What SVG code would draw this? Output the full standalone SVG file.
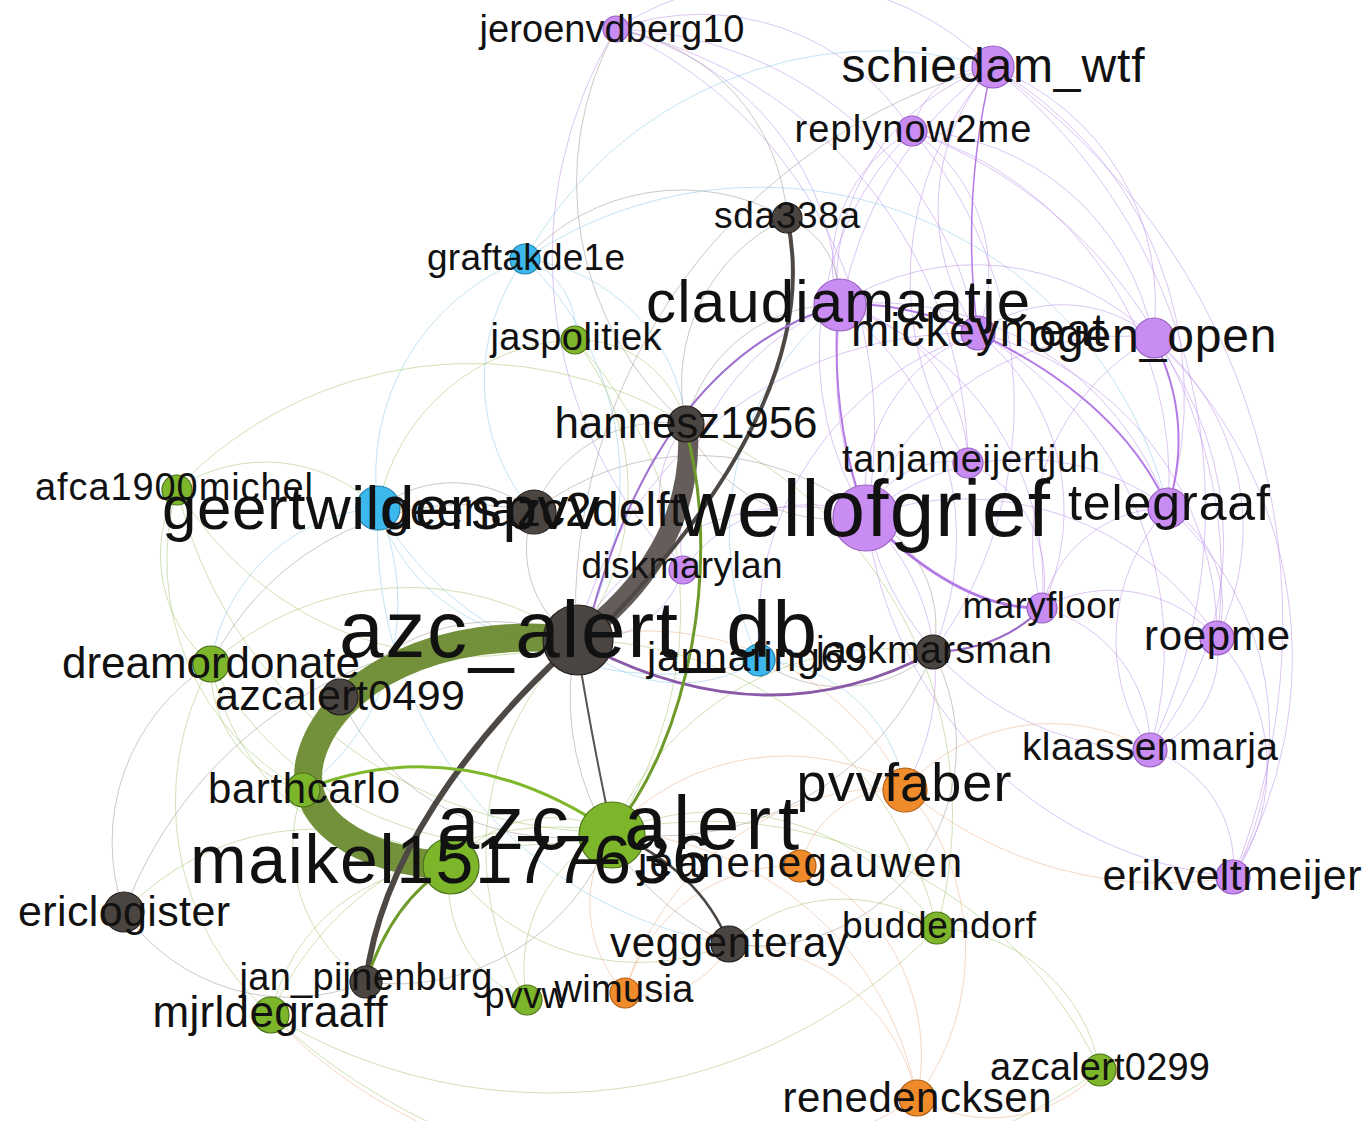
<svg xmlns="http://www.w3.org/2000/svg" width="1367" height="1121" viewBox="0 0 1367 1121">
<style>
.e{fill:none;stroke-width:1;stroke-opacity:.5}
.ep{stroke:#b889ea}.eg{stroke:#a2c46a}.eb{stroke:#86c8ea}.eo{stroke:#e9b088}.ed{stroke:#9a9490}
.w{fill:none;stroke-linecap:round}
.ng{fill:#7db52b;stroke:#4c7418}.nd{fill:#4b4541;stroke:#231f1d}.np{fill:#c98cf2;stroke:#9860c0}.nb{fill:#3cb8ec;stroke:#1f7fae}.no{fill:#ef8b2b;stroke:#b05f16}
circle{stroke-width:1.2}
text{font-family:"Liberation Sans",Arial,sans-serif;fill:#111;text-anchor:middle}
</style>
<rect width="1367" height="1121" fill="#fff"/>
<g id="connectors">
<!-- purple -->
<path class="e ep" d="M616,29 A300,300 0 0 1 992,67"/>
<path class="e ep" d="M616,29 A250,250 0 0 1 912,131"/>
<path class="e ep" d="M616,29 A285,285 0 0 1 838,305"/>
<path class="e ep" d="M616,29 A380,380 0 0 1 978,333"/>
<path class="e ep" d="M616,29 A440,440 0 0 1 866,516"/>
<path class="e ep" d="M616,29 A450,450 0 0 1 968,463"/>
<path class="e ed" d="M616,29 A320,320 0 0 0 686,424"/>
<path class="e ep" d="M616,29 A440,440 0 0 0 683,570"/>
<path class="e ep" d="M992,67 A82,82 0 0 0 912,131"/>
<path class="e ep" d="M992,67 A226,226 0 0 0 838,305"/>
<path class="e ep" d="M992,67 A213,213 0 0 0 978,333"/>
<path class="e ep" d="M992,67 A252,252 0 0 1 1153,338"/>
<path class="e ep" d="M992,67 A380,380 0 0 1 1168,508"/>
<path class="e ep" d="M992,67 A373,373 0 0 0 866,516"/>
<path class="e ep" d="M992,67 A318,318 0 0 0 968,463"/>
<path class="e ep" d="M992,67 A676,676 0 0 1 1233,877"/>
<path class="e ep" d="M992,67 A560,560 0 0 1 1150,750"/>
<path class="e eb" d="M525,259 A404,404 0 0 1 992,67"/>
<path class="e ed" d="M992,67 A566,566 0 0 0 576,640"/>
<path class="e ep" d="M912,131 A151,151 0 0 0 838,305"/>
<path class="e ep" d="M912,131 A170,170 0 0 1 978,333"/>
<path class="e ep" d="M912,131 A254,254 0 0 1 1153,338"/>
<path class="e ep" d="M912,131 A310,310 0 0 0 866,516"/>
<path class="e ep" d="M912,131 A365,365 0 0 1 1168,508"/>
<path class="e ep" d="M912,131 A473,473 0 0 1 1217,638"/>
<path class="e ep" d="M912,131 A417,417 0 0 1 933,652"/>
<path class="e ep" d="M838,305 A253,253 0 0 1 1153,338"/>
<path class="e ep" d="M838,305 A310,310 0 0 1 1168,508"/>
<path class="e ep" d="M838,305 A164,164 0 0 1 968,463"/>
<path class="e ep" d="M838,305 A245,245 0 0 0 683,570"/>
<path class="e ep" d="M838,305 A292,292 0 0 1 1042,608"/>
<path class="e ep" d="M838,305 A288,288 0 0 1 933,652"/>
<path class="e ep" d="M978,333 A140,140 0 0 1 1153,338"/>
<path class="e ep" d="M978,333 A172,172 0 0 0 866,516"/>
<path class="e ep" d="M978,333 A226,226 0 0 1 1042,608"/>
<path class="e ep" d="M978,333 A310,310 0 0 1 1217,638"/>
<path class="e ep" d="M978,333 A405,405 0 0 0 576,640"/>
<path class="e ep" d="M978,333 A361,361 0 0 1 1150,750"/>
<path class="e ep" d="M978,333 A315,315 0 0 0 759,660"/>
<path class="e ep" d="M1153,338 A245,245 0 0 1 1217,638"/>
<path class="e ep" d="M1153,338 A270,270 0 0 0 866,516"/>
<path class="e ep" d="M1153,338 A330,330 0 0 1 1150,750"/>
<path class="e ep" d="M1153,338 A436,436 0 0 1 1233,877"/>
<path class="e ep" d="M1153,338 A233,233 0 0 0 1042,608"/>
<path class="e ep" d="M866,516 A242,242 0 0 1 1168,508"/>
<path class="e ep" d="M866,516 A297,297 0 0 1 1217,638"/>
<path class="e ep" d="M866,516 A294,294 0 0 0 1150,750"/>
<path class="e ep" d="M866,516 A412,412 0 0 0 1233,877"/>
<path class="e ep" d="M866,516 A92,92 0 0 1 968,463"/>
<path class="e ep" d="M866,516 A153,153 0 0 0 683,570"/>
<path class="e ep" d="M866,516 A252,252 0 0 0 576,640"/>
<path class="e ep" d="M866,516 A220,220 0 0 1 905,788"/>
<path class="e ep" d="M1168,508 A111,111 0 0 1 1217,638"/>
<path class="e ep" d="M1168,508 A194,194 0 0 0 1150,750"/>
<path class="e ep" d="M1168,508 A300,300 0 0 1 1233,877"/>
<path class="e ep" d="M1168,508 A129,129 0 0 0 1042,608"/>
<path class="e ep" d="M1217,638 A104,104 0 0 1 1150,750"/>
<path class="e ep" d="M1217,638 A192,192 0 0 1 1233,877"/>
<path class="e ep" d="M1150,750 A121,121 0 0 1 1233,877"/>
<path class="e ep" d="M1042,608 A142,142 0 0 1 1217,638"/>
<path class="e ep" d="M1042,608 A143,143 0 0 1 1150,750"/>
<path class="e ep" d="M968,463 A130,130 0 0 1 1042,608"/>
<path class="e ep" d="M683,570 A102,102 0 0 1 576,640"/>
<path class="e ep" d="M683,570 A117,117 0 0 1 686,424"/>
<!-- blue -->
<path class="e eb" d="M525,259 A231,231 0 0 0 378,508"/>
<path class="e eb" d="M525,259 A76,76 0 0 1 575,340"/>
<path class="e eb" d="M525,259 A307,307 0 0 1 576,640"/>
<path class="e eb" d="M525,259 A184,184 0 0 1 686,424"/>
<path class="e eb" d="M525,259 A202,202 0 0 0 533,512"/>
<path class="e eb" d="M525,259 A420,420 0 0 1 1168,508"/>
<path class="e eb" d="M378,508 A190,190 0 0 0 576,640"/>
<path class="e eb" d="M378,508 A328,328 0 0 0 759,660"/>
<path class="e eb" d="M378,508 A183,183 0 0 0 211,664"/>
<path class="e eb" d="M378,508 A233,233 0 0 1 303,790"/>
<path class="e eb" d="M759,660 A147,147 0 0 1 576,640"/>
<path class="e eb" d="M759,660 A291,291 0 0 1 838,305"/>
<path class="e eb" d="M759,660 A155,155 0 0 1 905,788"/>
<path class="e eb" d="M378,508 A420,420 0 0 0 729,944"/>
<!-- green -->
<path class="e eg" d="M575,340 A240,240 0 0 1 576,640"/>
<path class="e eg" d="M575,340 A111,111 0 0 1 686,424"/>
<path class="e eg" d="M575,340 A395,395 0 0 1 612,832"/>
<path class="e eg" d="M575,340 A207,207 0 0 0 378,508"/>
<path class="e eg" d="M177,488 A162,162 0 0 1 378,508"/>
<path class="e eg" d="M177,488 A143,143 0 0 0 211,664"/>
<path class="e eg" d="M177,488 A341,341 0 0 0 576,640"/>
<path class="e eg" d="M177,488 A444,444 0 0 0 612,832"/>
<path class="e eg" d="M177,488 A262,262 0 0 0 303,790"/>
<path class="e eg" d="M177,488 A410,410 0 0 1 686,424"/>
<path class="e eg" d="M211,664 A293,293 0 0 1 576,640"/>
<path class="e eg" d="M211,664 A348,348 0 0 0 612,832"/>
<path class="e eg" d="M211,664 A125,125 0 0 0 303,790"/>
<path class="e eg" d="M211,664 A250,250 0 0 0 450,866"/>
<path class="e eg" d="M211,664 A285,285 0 0 0 271,1015"/>
<path class="e eg" d="M303,790 A132,132 0 0 0 450,866"/>
<path class="e eg" d="M303,790 A249,249 0 0 1 576,640"/>
<path class="e eg" d="M303,790 A162,162 0 0 0 366,982"/>
<path class="e eg" d="M450,866 A132,132 0 0 1 612,832"/>
<path class="e eg" d="M450,866 A186,186 0 0 0 271,1015"/>
<path class="e eg" d="M450,866 A124,124 0 0 0 527,1000"/>
<path class="e eg" d="M450,866 A232,232 0 0 0 729,944"/>
<path class="e eg" d="M612,832 A151,151 0 0 0 527,1000"/>
<path class="e eg" d="M612,832 A271,271 0 0 1 937,928"/>
<path class="e eg" d="M612,832 A434,434 0 0 1 1100,1070"/>
<path class="e eg" d="M937,928 A173,173 0 0 1 1100,1070"/>
<path class="e eg" d="M937,928 A370,370 0 0 0 576,640"/>
<path class="e eg" d="M937,928 A167,167 0 0 0 729,944"/>
<path class="e eg" d="M527,1000 A291,291 0 0 1 576,640"/>
<path class="e eg" d="M271,1015 A310,310 0 0 1 612,832"/>
<path class="e eg" d="M271,1015 A537,537 0 0 0 937,928"/>
<path class="e eg" d="M271,1015 A665,665 0 0 0 1100,1070"/>
<path class="e eg" d="M124,912 A263,263 0 0 1 450,866"/>
<path class="e eg" d="M612,832 A300,300 0 0 1 933,652"/>
<path class="e eg" d="M686,424 A420,420 0 0 1 937,928"/>
<!-- orange -->
<path class="e eo" d="M905,788 A237,237 0 0 0 612,832"/>
<path class="e eo" d="M905,788 A289,289 0 0 0 576,640"/>
<path class="e eo" d="M905,788 A105,105 0 0 0 800,866"/>
<path class="e eo" d="M905,788 A248,248 0 0 1 917,1098"/>
<path class="e eo" d="M905,788 A278,278 0 0 0 625,993"/>
<path class="e eo" d="M905,788 A198,198 0 0 1 1150,750"/>
<path class="e eo" d="M800,866 A208,208 0 0 1 917,1098"/>
<path class="e eo" d="M800,866 A173,173 0 0 0 625,993"/>
<path class="e eo" d="M625,993 A129,129 0 0 1 612,832"/>
<path class="e eo" d="M625,993 A92,92 0 0 0 729,944"/>
<path class="e eo" d="M917,1098 A324,324 0 0 0 612,832"/>
<path class="e eo" d="M917,1098 A194,194 0 0 0 729,944"/>
<path class="e eo" d="M917,1098 A148,148 0 0 0 1100,1070"/>
<path class="e eo" d="M917,1098 A521,521 0 0 1 271,1015"/>
<path class="e eo" d="M905,788 A400,400 0 0 0 1233,877"/>
<!-- dark -->
<path class="e ed" d="M686,424 A141,141 0 0 0 533,512"/>
<path class="e ed" d="M686,424 A183,183 0 0 1 787,218"/>
<path class="e ed" d="M686,424 A154,154 0 0 1 838,305"/>
<path class="e ed" d="M686,424 A162,162 0 0 0 866,516"/>
<path class="e ed" d="M787,218 A81,81 0 0 1 838,305"/>
<path class="e ed" d="M787,218 A212,212 0 0 0 525,259"/>
<path class="e ed" d="M787,218 A204,204 0 0 0 616,29"/>
<path class="e ed" d="M533,512 A108,108 0 0 0 576,640"/>
<path class="e ed" d="M533,512 A124,124 0 0 0 378,508"/>
<path class="e ed" d="M533,512 A266,266 0 0 1 866,516"/>
<path class="e ed" d="M533,512 A285,285 0 0 0 211,664"/>
<path class="e ed" d="M340,697 A194,194 0 0 1 576,640"/>
<path class="e ed" d="M340,697 A243,243 0 0 0 612,832"/>
<path class="e ed" d="M340,697 A80,80 0 0 0 303,790"/>
<path class="e ed" d="M124,912 A202,202 0 0 0 366,982"/>
<path class="e ed" d="M124,912 A422,422 0 0 1 576,640"/>
<path class="e ed" d="M124,912 A210,210 0 0 1 211,664"/>
<path class="e ed" d="M366,982 A230,230 0 0 0 612,832"/>
<path class="e ed" d="M729,944 A272,272 0 0 1 576,640"/>
<path class="e ed" d="M933,652 A121,121 0 0 0 866,516"/>
<path class="e ed" d="M933,652 A294,294 0 0 1 612,832"/>
<path class="e ed" d="M933,652 A139,139 0 0 1 759,660"/>
<path class="e ed" d="M933,652 A200,200 0 0 1 729,944"/>
<!-- heavy -->
<path class="w" d="M575,640 C440,625 330,680 310,760 C296,820 360,860 450,866" stroke="#6c8a2f" stroke-width="28" stroke-opacity=".95"/>
<path class="w" d="M688,432 C692,520 645,590 576,640" stroke="#5d5450" stroke-width="20" stroke-opacity=".95"/>
<path class="w" d="M787,218 C812,330 760,470 590,640" stroke="#4e4845" stroke-width="4"/>
<path class="w" d="M565,652 C470,740 380,860 366,982" stroke="#4e4845" stroke-width="6"/>
<path class="w" d="M590,648 Q770,740 933,652" stroke="#8a5aa8" stroke-width="3"/>
<path class="w" d="M686,430 C722,560 690,740 612,832" stroke="#6e9a2a" stroke-width="3"/>
<path class="w" d="M303,790 Q460,728 612,832" stroke="#7fb82b" stroke-width="3"/>
<path class="w" d="M450,866 Q392,900 366,982" stroke="#6e9a2a" stroke-width="3"/>
<path class="w" d="M576,640 Q592,740 612,832" stroke="#5a5450" stroke-width="2"/>
<path class="w" d="M612,832 Q700,870 729,944" stroke="#4e4845" stroke-width="2.5"/>
<path class="w" d="M838,305 Q660,360 590,620" stroke="#a070d0" stroke-width="2"/>
<path class="w" d="M978,333 Q1120,400 1168,508" stroke="#b47ae6" stroke-width="2"/>
<path class="w" d="M866,516 Q960,610 1042,608" stroke="#b47ae6" stroke-width="3"/>
<path class="w" d="M1153,338 Q1195,420 1168,508" stroke="#b47ae6" stroke-width="2"/>
<path class="w" d="M1042,608 Q1000,650 933,652" stroke="#9a68c8" stroke-width="2"/>
<path class="w" d="M838,305 Q900,300 978,333" stroke="#b47ae6" stroke-width="2"/>
<path class="w" d="M838,305 Q830,420 866,516" stroke="#b47ae6" stroke-width="2"/>
<path class="w" d="M992,67 Q960,200 978,333" stroke="#b47ae6" stroke-width="1.5"/>
</g>
<g id="nodes">
<g id="node-jeroenvdberg10"><circle class="np" cx="616" cy="29" r="13"/></g>
<g id="node-schiedam_wtf"><circle class="np" cx="993" cy="67" r="21"/></g>
<g id="node-replynow2me"><circle class="np" cx="912" cy="131" r="15"/></g>
<g id="node-sda338a"><circle class="nd" cx="787" cy="218" r="15"/></g>
<g id="node-graftakde1e"><circle class="nb" cx="525" cy="259" r="15"/></g>
<g id="node-claudiamaatje"><circle class="np" cx="840" cy="305" r="26"/></g>
<g id="node-mickeymeat"><circle class="np" cx="978" cy="333" r="17"/></g>
<g id="node-ogen_open"><circle class="np" cx="1154" cy="338" r="20"/></g>
<g id="node-jaspolitiek"><circle class="ng" cx="575" cy="340" r="14"/></g>
<g id="node-hannesz1956"><circle class="nd" cx="686" cy="424" r="18"/></g>
<g id="node-tanjameijertjuh"><circle class="np" cx="968" cy="463" r="15"/></g>
<g id="node-afca1900michel"><circle class="ng" cx="177" cy="490" r="15"/></g>
<g id="node-geertwilderspvv"><circle class="nb" cx="378" cy="508" r="22"/></g>
<g id="node-geenazc2delft"><circle class="nd" cx="534" cy="512" r="22"/></g>
<g id="node-wellofgrief"><circle class="np" cx="866" cy="518" r="33"/></g>
<g id="node-telegraaf"><circle class="np" cx="1168" cy="508" r="20"/></g>
<g id="node-diskmarylan"><circle class="np" cx="683" cy="570" r="14"/></g>
<g id="node-maryfloor"><circle class="np" cx="1042" cy="608" r="15"/></g>
<g id="node-azc_alert_db"><circle class="nd" cx="578" cy="640" r="35"/></g>
<g id="node-roepme"><circle class="np" cx="1217" cy="638" r="17"/></g>
<g id="node-jannafing69"><circle class="nb" cx="759" cy="660" r="16"/></g>
<g id="node-jackmarsman"><circle class="nd" cx="933" cy="652" r="17"/></g>
<g id="node-dreamordonate"><circle class="ng" cx="211" cy="664" r="18"/></g>
<g id="node-azcalert0499"><circle class="nd" cx="340" cy="697" r="18"/></g>
<g id="node-klaassenmarja"><circle class="np" cx="1150" cy="750" r="17"/></g>
<g id="node-pvvfaber"><circle class="no" cx="905" cy="790" r="22"/></g>
<g id="node-barthcarlo"><circle class="ng" cx="303" cy="790" r="17"/></g>
<g id="node-azc_alert"><circle class="ng" cx="612" cy="835" r="33"/></g>
<g id="node-maikel15177636"><circle class="ng" cx="451" cy="866" r="28"/></g>
<g id="node-jeanenegauwen"><circle class="no" cx="800" cy="866" r="16"/></g>
<g id="node-erikveltmeijer"><circle class="np" cx="1233" cy="877" r="17"/></g>
<g id="node-ericlogister"><circle class="nd" cx="124" cy="912" r="20"/></g>
<g id="node-buddendorf"><circle class="ng" cx="937" cy="928" r="16"/></g>
<g id="node-veggenteray"><circle class="nd" cx="729" cy="944" r="18"/></g>
<g id="node-jan_pijnenburg"><circle class="nd" cx="366" cy="982" r="16"/></g>
<g id="node-pvvw"><circle class="ng" cx="527" cy="1000" r="15"/></g>
<g id="node-wimusia"><circle class="no" cx="625" cy="993" r="15"/></g>
<g id="node-mjrldegraaff"><circle class="ng" cx="271" cy="1015" r="18"/></g>
<g id="node-azcalert0299"><circle class="ng" cx="1100" cy="1070" r="16"/></g>
<g id="node-renedencksen"><circle class="no" cx="917" cy="1098" r="18"/></g>
</g>
<g id="labels">
<text x="612" y="42" font-size="38" textLength="265">jeroenvdberg10</text>
<text x="993" y="82" font-size="48" textLength="303">schiedam_wtf</text>
<text x="913" y="142" font-size="38" textLength="237">replynow2me</text>
<text x="787" y="228" font-size="37" textLength="146">sda338a</text>
<text x="526" y="270" font-size="37" textLength="198">graftakde1e</text>
<text x="838" y="322" font-size="60" textLength="384">claudiamaatje</text>
<text x="978" y="346" font-size="46" textLength="254">mickeymeat</text>
<text x="1153" y="352" font-size="48" textLength="247">ogen_open</text>
<text x="576" y="350" font-size="38" textLength="171">jaspolitiek</text>
<text x="686" y="438" font-size="44" textLength="263">hannesz1956</text>
<text x="971" y="472" font-size="38" textLength="258">tanjameijertjuh</text>
<text x="174" y="500" font-size="38" textLength="278">afca1900michel</text>
<text x="533" y="526" font-size="48" textLength="300">geenazc2delft</text>
<text x="381" y="529" font-size="62" textLength="438">geertwilderspvv</text>
<text x="864" y="536" font-size="80" textLength="372">wellofgrief</text>
<text x="1169" y="520" font-size="50" textLength="202">telegraaf</text>
<text x="682" y="578" font-size="37" textLength="201">diskmarylan</text>
<text x="1041" y="618" font-size="37" textLength="157">maryfloor</text>
<text x="578" y="657" font-size="80" textLength="478">azc_alert_db</text>
<text x="1217" y="650" font-size="42" textLength="146">roepme</text>
<text x="757" y="671" font-size="41" textLength="220">jannafing69</text>
<text x="934" y="663" font-size="39" textLength="236">jackmarsman</text>
<text x="211" y="678" font-size="44" textLength="298">dreamordonate</text>
<text x="340" y="710" font-size="43" textLength="250">azcalert0499</text>
<text x="1150" y="760" font-size="39" textLength="256">klaassenmarja</text>
<text x="904" y="801" font-size="54" textLength="215">pvvfaber</text>
<text x="304" y="803" font-size="42" textLength="192">barthcarlo</text>
<text x="450" y="883" font-size="68" textLength="520">maikel15177636</text>
<text x="618" y="849" font-size="76" textLength="362">azc_alert</text>
<text x="800" y="877" font-size="42" textLength="324">jeanenegauwen</text>
<text x="1232" y="890" font-size="43" textLength="259">erikveltmeijer</text>
<text x="124" y="926" font-size="43" textLength="212">ericlogister</text>
<text x="939" y="938" font-size="37" textLength="194">buddendorf</text>
<text x="729" y="957" font-size="42" textLength="238">veggenteray</text>
<text x="366" y="990" font-size="38" textLength="253">jan_pijnenburg</text>
<text x="526" y="1008" font-size="36" textLength="83">pvvw</text>
<text x="624" y="1002" font-size="38" textLength="139">wimusia</text>
<text x="270" y="1027" font-size="44" textLength="235">mjrldegraaff</text>
<text x="1100" y="1080" font-size="38" textLength="220">azcalert0299</text>
<text x="917" y="1112" font-size="42" textLength="269">renedencksen</text>
</g>
</svg>
